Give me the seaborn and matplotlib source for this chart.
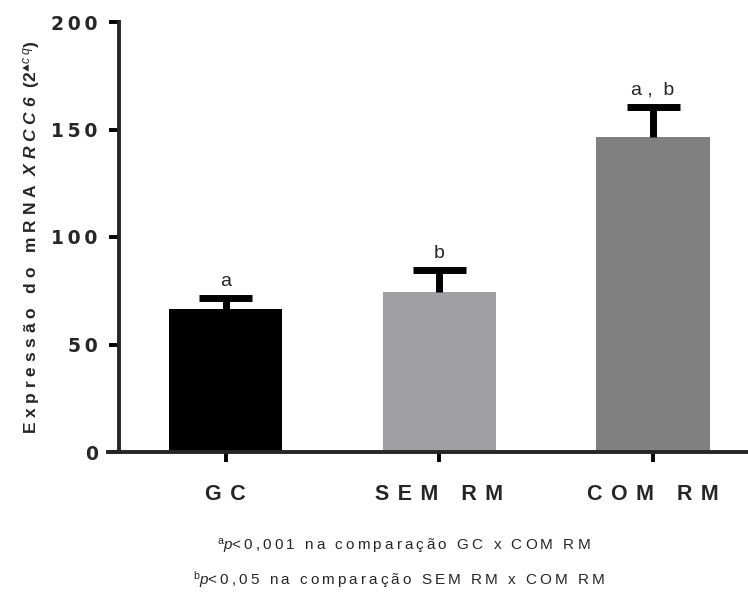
import matplotlib
matplotlib.use("Agg")
import matplotlib.pyplot as plt
import seaborn as sns
import pandas as pd
import numpy as np

groups = ["GC", "SEM RM", "COM RM"]
means = [66.5, 74.5, 146.5]
sems = [5.0, 10.0, 14.0]
letters = ["a", "b", "a ,  b"]
colors = ["#000000", "#a0a0a4", "#808080"]
yticks = [0, 50, 100, 150, 200]

sns.set_theme(style="ticks")
plt.rcParams["font.family"] = ["Liberation Sans", "DejaVu Sans"]
plt.rcParams["mathtext.fontset"] = "custom"
plt.rcParams["mathtext.rm"] = "Liberation Sans"
plt.rcParams["mathtext.it"] = "Liberation Sans:italic"
plt.rcParams["mathtext.bf"] = "Liberation Sans:bold"
plt.rcParams["mathtext.bfit"] = "Liberation Sans:italic:bold"

TS = "\u2009"


def spaced(s, gap=TS, word=" "):
    out = []
    for ch in s:
        out.append(word if ch == " " else ch)
    return gap.join(out)


df = pd.DataFrame({"grupo": groups, "valor": means})

fig = plt.figure(figsize=(7.48, 5.96), dpi=100)
ax = fig.add_axes([108 / 748, 144 / 596, (760 - 108) / 748, 430 / 596])

sns.barplot(data=df, x="grupo", y="valor", hue="grupo", palette=colors,
            errorbar=None, width=0.53, legend=False, ax=ax, saturation=1,
            linewidth=0)

xs = np.arange(len(groups))
tops = np.array(means) + np.array(sems)
ax.vlines(xs, means, tops, colors="black", linewidth=5)
ax.hlines(tops, xs - 0.124, xs + 0.124, colors="black", linewidth=5)

for i, (t, l) in enumerate(zip(tops, letters)):
    ax.text(i, t + 4, l, ha="center", va="bottom", fontsize=14)

ax.set_xlim(-0.55, 2.5)
ax.set_ylim(0, 200)
ax.spines["left"].set_position(("data", -0.5))
sns.despine(ax=ax)
for sp in ["left", "bottom"]:
    ax.spines[sp].set_linewidth(2.8)
ax.tick_params(axis="both", width=2.8, length=7, color="black")
ax.set_yticks(yticks)
ax.set_yticklabels([spaced(str(t), gap=TS) for t in yticks], fontsize=13.5,
                   fontweight="bold", family="DejaVu Sans")
ax.set_xticks(xs)
ax.set_xticklabels([spaced(g, gap=TS + TS, word=" ") for g in groups],
                   fontsize=15.5, fontweight="bold")
ax.tick_params(axis="x", pad=16)
ax.tick_params(axis="y", pad=8)
ax.set_xlabel("")
ax.set_ylabel(spaced("Expressão do mRNA", gap=" ", word=" ") +
              r"  $\mathbfit{X\ R\ C\ C\ 6}$  "
              r"(2$^{\blacktriangle \mathit{c\ q}}$)",
              fontsize=12.5, fontweight="bold", labelpad=7)

fig.text(404 / 748, 1 - 547 / 596,
         r"$^{\mathrm{a}}$$\mathit{p}$" + spaced("<0,001 na comparação GC x COM RM"),
         ha="center", va="center", fontsize=11)
fig.text(399 / 748, 1 - 580 / 596,
         r"$^{\mathrm{b}}$$\mathit{p}$" + spaced("<0,05 na comparação SEM RM x COM RM"),
         ha="center", va="center", fontsize=11)

fig.savefig("out.png", dpi=100)
